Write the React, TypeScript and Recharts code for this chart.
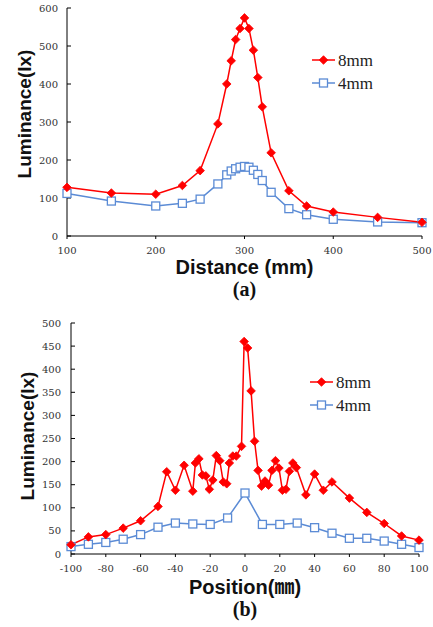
import { LineChart, Line, XAxis, YAxis } from 'recharts'

// (a) luminance against distance
const distanceMm = [100, 150, 200, 230, 250, 270, 280, 285, 290, 295, 300, 305, 310, 315, 320, 330, 350, 370, 400, 450, 500]
const lum8mmA = [128, 113, 110, 133, 172, 295, 400, 461, 517, 546, 574, 546, 489, 417, 340, 219, 119, 79, 63, 49, 36]
const lum4mmA = [112, 92, 79, 86, 97, 137, 161, 171, 177, 181, 183, 181, 173, 162, 146, 115, 72, 56, 44, 37, 35]
const ticksA_x = [100, 200, 300, 400, 500]
const ticksA_y = [0, 100, 200, 300, 400, 500, 600]

// (b) luminance against position
const pos8mm = [-100, -90, -80, -70, -60, -50, -45, -40, -35, -30, -28.5, -26.5, -24.5, -22.5, -20.5, -18.5, -16.5, -14.5, -12.5, -10.5, -9, -7, -5, -2, -0.5, 1.5, 3.5, 5.5, 7.5, 9.5, 11.5, 13.5, 15.5, 17.5, 19.5, 21.5, 23.5, 25.5, 27.5, 29.5, 35, 40, 45, 50, 60, 70, 80, 90, 100]
const lum8mmB = [20, 37, 42, 56, 72, 103, 178, 138, 192, 136, 197, 206, 171, 169, 140, 160, 213, 202, 156, 152, 197, 212, 212, 233, 460, 446, 353, 244, 181, 147, 158, 149, 181, 202, 186, 138, 140, 179, 197, 187, 128, 173, 138, 156, 121, 90, 66, 39, 30]
const pos4mm = [-100, -90, -80, -70, -60, -50, -40, -30, -20, -10, 0, 10, 20, 30, 40, 50, 60, 70, 80, 90, 100]
const lum4mmB = [16, 21, 25, 32, 42, 58, 67, 65, 64, 78, 132, 64, 64, 67, 57, 45, 34, 34, 28, 21, 14]
const ticksB_x = [-100, -80, -60, -40, -20, 0, 20, 40, 60, 80, 100]
const ticksB_y = [0, 50, 100, 150, 200, 250, 300, 350, 400, 450, 500]

const RED = '#ff0000'
const BLUE = '#5b8bd5'

const toRows = (xs: number[], ys: number[]) => xs.map((x, i) => ({ x, y: ys[i] }))

const tickStyle = { fontSize: 10, fontFamily: 'DejaVu Serif', fill: '#333' }

function Diamond(props: any) {
  const { cx, cy } = props
  if (cx == null || cy == null) return null
  const r = 4.3
  return <path d={`M${cx},${cy - r}L${cx + r},${cy}L${cx},${cy + r}L${cx - r},${cy}Z`} fill={RED} stroke={RED} strokeWidth={0.8} />
}

function Square(props: any) {
  const { cx, cy } = props
  if (cx == null || cy == null) return null
  return <rect x={cx - 4} y={cy - 4} width={8} height={8} fill="#fff" stroke={BLUE} strokeWidth={1.3} />
}

// series key, drawn beside the plot like the original
function KeyBox() {
  return (
    <svg width={110} height={50}>
      <line x1={0} y1={10} x2={23} y2={10} stroke={RED} strokeWidth={1.5} />
      <Diamond cx={11.5} cy={10} />
      <text x={26} y={16} fontFamily="Liberation Serif" fontSize={17} fill="#222">8mm</text>
      <line x1={0} y1={33} x2={23} y2={33} stroke={BLUE} strokeWidth={1.5} />
      <Square cx={11.5} cy={33} />
      <text x={26} y={39} fontFamily="Liberation Serif" fontSize={17} fill="#222">4mm</text>
    </svg>
  )
}

const titleFont = { fontFamily: 'Liberation Sans, Noto Sans CJK JP, sans-serif', fontWeight: 700, fontSize: 19, color: '#111' }
const capFont = { fontFamily: 'Liberation Serif, serif', fontWeight: 700, fontSize: 20, color: '#111' }

export default function App() {
  return (
    <div style={{ position: 'absolute', left: 0, top: 0, width: 433, height: 627, background: '#fff', overflow: 'hidden' }}>
      {/* (a) */}
      <div style={{ position: 'absolute', left: 0, top: 0 }}>
        <LineChart width={433} height={300} margin={{ top: 8, right: 11, left: 0, bottom: 0 }}>
          <XAxis
            dataKey="x"
            type="number"
            domain={[100, 500]}
            ticks={ticksA_x}
            tick={tickStyle}
            tickSize={3}
            tickMargin={8}
            height={64}
            stroke="#000"
            allowDuplicatedCategory={false}
          />
          <XAxis xAxisId="top" orientation="top" dataKey="x" type="number" domain={[100, 500]} height={0} tick={false} tickLine={false} stroke="#000" />
          <YAxis
            type="number"
            domain={[0, 600]}
            ticks={ticksA_y}
            tick={tickStyle}
            tickSize={-4}
            tickMargin={13}
            width={67}
            stroke="#000"
          />
          <YAxis yAxisId="right" orientation="right" domain={[0, 600]} width={0} tick={false} tickLine={false} stroke="#000" />
          <Line data={toRows(distanceMm, lum4mmA)} dataKey="y" stroke={BLUE} strokeWidth={1.5} dot={<Square />} isAnimationActive={false} />
          <Line data={toRows(distanceMm, lum8mmA)} dataKey="y" stroke={RED} strokeWidth={1.5} dot={<Diamond />} isAnimationActive={false} />
        </LineChart>
        <div style={{ position: 'absolute', left: 312, top: 50 }}><KeyBox /></div>
        <div style={{ ...titleFont, position: 'absolute', left: 67, width: 355, top: 256, textAlign: 'center', fontSize: 20 }}>Distance (mm)</div>
        <div style={{ ...capFont, position: 'absolute', left: 67, width: 355, top: 278, textAlign: 'center' }}>(a)</div>
        <div style={{ ...titleFont, position: 'absolute', left: 25 - 80, top: 115 - 12, width: 160, textAlign: 'center', transform: 'rotate(-90deg)' }}>Luminance(lx)</div>
      </div>

      {/* (b) */}
      <div style={{ position: 'absolute', left: 0, top: 310 }}>
        <LineChart width={433} height={317} margin={{ top: 13, right: 14, left: 0, bottom: 0 }}>
          <XAxis
            dataKey="x"
            type="number"
            domain={[-100, 100]}
            ticks={ticksB_x}
            tick={tickStyle}
            tickSize={3}
            tickMargin={8}
            height={73}
            stroke="#000"
            allowDuplicatedCategory={false}
          />
          <XAxis xAxisId="top" orientation="top" dataKey="x" type="number" domain={[-100, 100]} height={0} tick={false} tickLine={false} stroke="#000" />
          <YAxis
            type="number"
            domain={[0, 500]}
            ticks={ticksB_y}
            tick={tickStyle}
            tickSize={-4}
            tickMargin={14}
            width={71}
            stroke="#000"
          />
          <YAxis yAxisId="right" orientation="right" domain={[0, 500]} width={0} tick={false} tickLine={false} stroke="#000" />
          <Line data={toRows(pos4mm, lum4mmB)} dataKey="y" stroke={BLUE} strokeWidth={1.5} dot={<Square />} isAnimationActive={false} />
          <Line data={toRows(pos8mm, lum8mmB)} dataKey="y" stroke={RED} strokeWidth={1.5} dot={<Diamond />} isAnimationActive={false} />
        </LineChart>
        <div style={{ position: 'absolute', left: 310, top: 62 }}><KeyBox /></div>
        <div style={{ ...titleFont, position: 'absolute', left: 71, width: 348, top: 261, textAlign: 'center', fontSize: 20 }}>Position(㎜)</div>
        <div style={{ ...capFont, position: 'absolute', left: 71, width: 348, top: 288, textAlign: 'center' }}>(b)</div>
        <div style={{ ...titleFont, position: 'absolute', left: 28 - 80, top: 127 - 12, width: 160, textAlign: 'center', transform: 'rotate(-90deg)' }}>Luminance(lx)</div>
      </div>
    </div>
  )
}
